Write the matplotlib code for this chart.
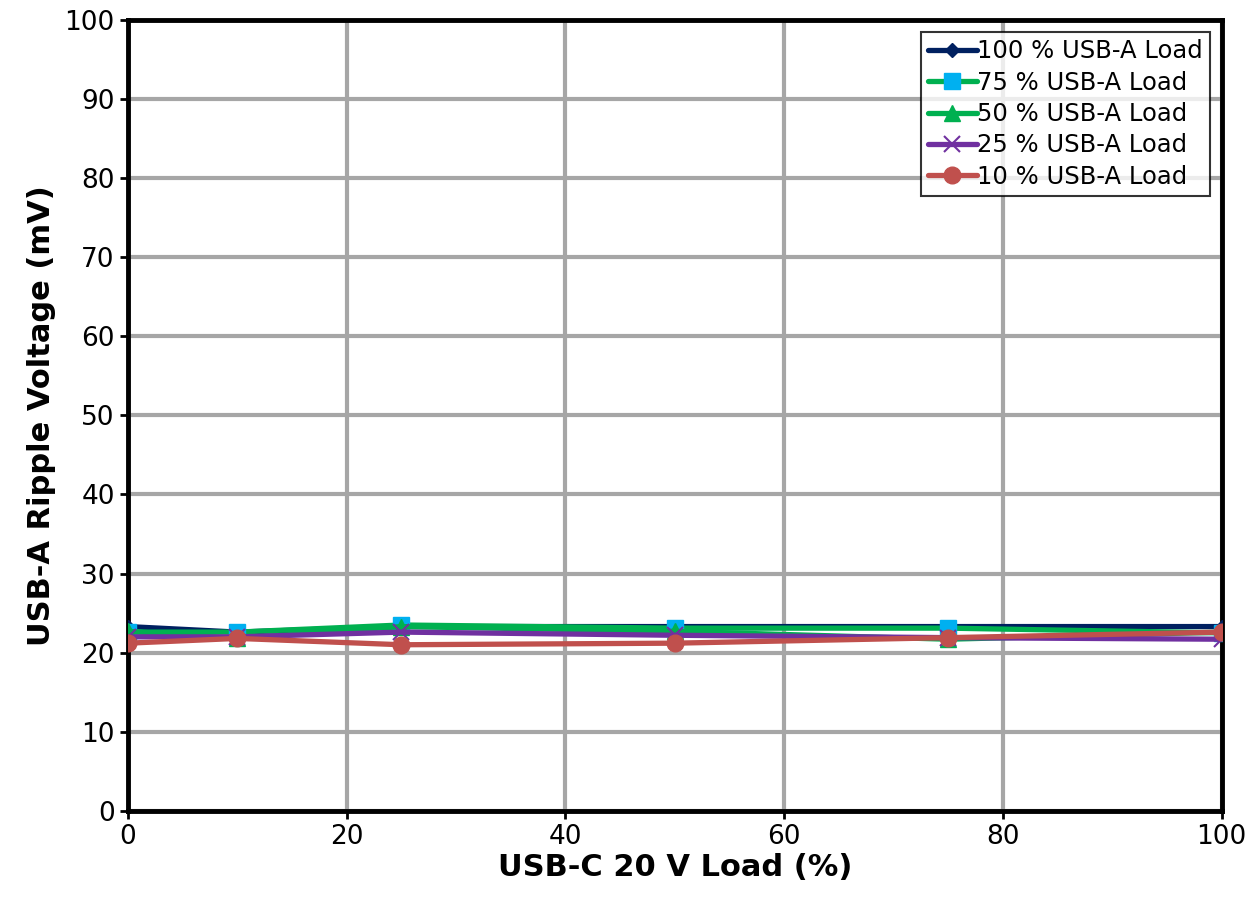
#!/usr/bin/env python3
import matplotlib
matplotlib.use('Agg')
import matplotlib.pyplot as plt

# USB-C 20 V load (%)
load_c = [0, 10, 25, 50, 75, 100]

# USB-A ripple voltage (mV) per USB-A load
ripple_100 = [23.3, 22.6, 23.3, 23.3, 23.3, 23.3]
ripple_75 = [22.6, 22.6, 23.5, 23.1, 23.1, 22.5]
ripple_50 = [22.7, 21.8, 23.3, 22.7, 21.7, 22.6]
ripple_25 = [22.0, 22.0, 22.6, 22.2, 21.9, 21.7]
ripple_10 = [21.2, 21.8, 21.0, 21.2, 21.9, 22.6]

labels = ['100 % USB-A Load', '75 % USB-A Load', '50 % USB-A Load',
          '25 % USB-A Load', '10 % USB-A Load']


def main():
    plt.rcParams['font.family'] = ['DejaVu Sans']
    fig = plt.figure(figsize=(12.6, 9.09), dpi=100)
    ax = fig.add_axes([0.1016, 0.108, 0.868, 0.870])

    lw = 3.8
    common = dict(lw=lw, solid_capstyle='round', zorder=3)
    ax.plot(load_c, ripple_100, color='#002060', marker='D', ms=7,
            label=labels[0], **common)
    ax.plot(load_c, ripple_75, color='#00B050', marker='s', ms=12,
            mfc='#00B0F0', mec='#00B0F0', label=labels[1], **common)
    ax.plot(load_c, ripple_50, color='#00B050', marker='^', ms=11,
            label=labels[2], **common)
    ax.plot(load_c, ripple_25, color='#7030A0', marker='x', ms=12,
            mew=1.5, label=labels[3], **common)
    ax.plot(load_c, ripple_10, color='#C0504D', marker='o', ms=12,
            label=labels[4], **common)

    ax.set_xlim(0, 100)
    ax.set_ylim(0, 100)
    ax.set_xticks(range(0, 101, 20))
    ax.set_yticks(range(0, 101, 10))
    ax.grid(True, color='#A6A6A6', lw=3)
    ax.set_axisbelow(True)
    for s in ax.spines.values():
        s.set_linewidth(3.5)
        s.set_color('black')
    ax.tick_params(labelsize=19, width=2, length=6, direction='out')

    ax.set_xlabel('USB-C 20 V Load (%)', fontsize=22, fontweight='bold', labelpad=2)
    ax.set_ylabel('USB-A Ripple Voltage (mV)', fontsize=22, fontweight='bold', labelpad=6)

    leg = ax.legend(loc='upper right', fontsize=17.5, frameon=True, fancybox=False,
                    handlelength=2.0, handletextpad=0.0, borderpad=0.3,
                    labelspacing=0.3, borderaxespad=0.5)
    leg.get_frame().set_edgecolor('black')
    leg.get_frame().set_linewidth(1.5)

    fig.savefig('out.png', dpi=100)


if __name__ == '__main__':
    main()
